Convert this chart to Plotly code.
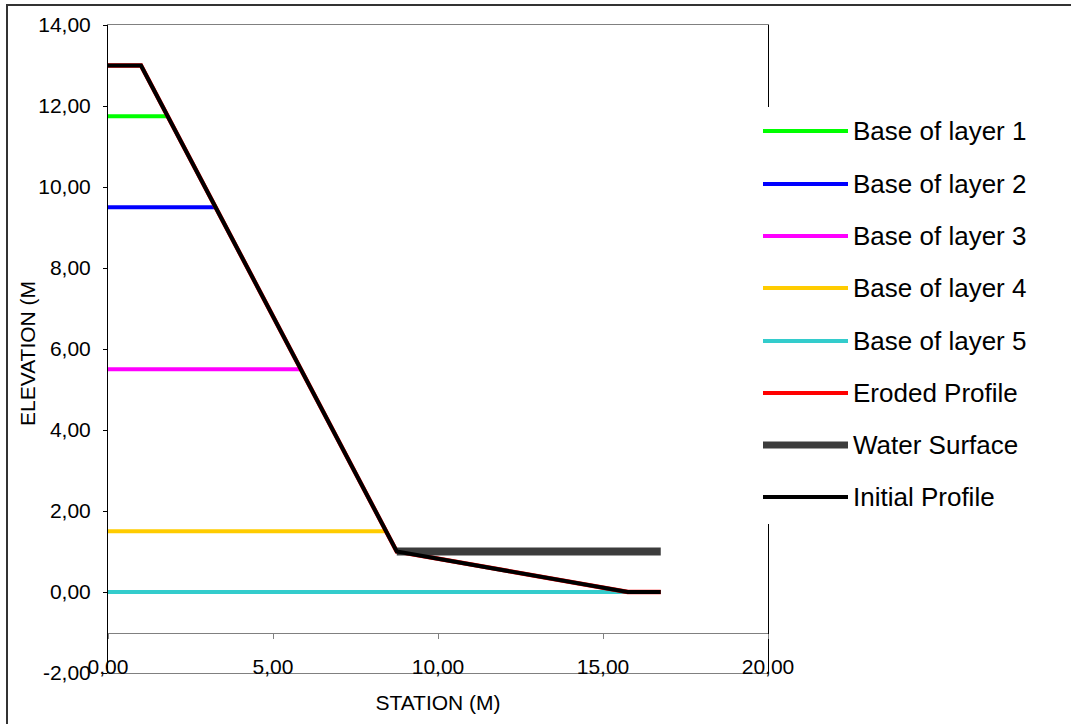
import plotly.graph_objects as go

# ---------------- data ----------------
layer_names = ["Base of layer 1", "Base of layer 2", "Base of layer 3",
               "Base of layer 4", "Base of layer 5"]
layer_elev = [11.75, 9.5, 5.5, 1.5, 0.0]
layer_end_station = [1.8, 3.25, 5.85, 8.4, 15.75]

initial_x = [0.0, 1.0, 8.75, 15.75, 16.75]
initial_y = [13.0, 13.0, 1.0, 0.0, 0.0]

eroded_x = [0.0, 1.0, 8.75, 15.75, 16.75]
eroded_y = [13.0, 13.0, 1.0, 0.0, 0.0]

water_x = [8.75, 16.75]
water_y = [1.0, 1.0]

x_ticks = [0, 5, 10, 15, 20]
y_ticks = [-2, 0, 2, 4, 6, 8, 10, 12, 14]


def fmt(v):
    return f"{v:.2f}".replace(".", ",")


# ---------------- styles ----------------
FONT = "Liberation Sans, Arial, sans-serif"
layer_colors = ["#00FF00", "#0000FF", "#FF00FF", "#FFCC00", "#33CCCC"]
W, H = 1071, 724
L, R, T, B = 108, 303, 25, 51
PW, PH = W - L - R, H - T - B


def px(xp):
    return (xp - L) / PW


def py(yp):
    return (H - B - yp) / PH


fig = go.Figure()

for name, elev, xend, col in zip(layer_names, layer_elev, layer_end_station, layer_colors):
    fig.add_trace(go.Scatter(x=[0, xend], y=[elev, elev], mode="lines", name=name,
                             line=dict(color=col, width=4), showlegend=False))

fig.add_trace(go.Scatter(x=eroded_x, y=eroded_y, mode="lines", name="Eroded Profile",
                         line=dict(color="#FF0000", width=4.4), showlegend=False))
fig.add_trace(go.Scatter(x=water_x, y=water_y, mode="lines", name="Water Surface",
                         line=dict(color="#3c3c3c", width=8), showlegend=False))
fig.add_trace(go.Scatter(x=initial_x, y=initial_y, mode="lines", name="Initial Profile",
                         xaxis="x2", yaxis="y",
                         line=dict(color="#000000", width=4), showlegend=False))

# ---------------- custom legend ----------------
legend_names = layer_names + ["Eroded Profile", "Water Surface", "Initial Profile"]
legend_colors = layer_colors + ["#FF0000", "#3c3c3c", "#000000"]
legend_widths = [4, 4, 4, 4, 4, 4, 7, 4]
row_y = [131, 184, 236, 288, 341, 393, 445, 497]

shapes = []
shapes.append(dict(type="rect", xref="paper", yref="paper",
                   x0=px(752), x1=px(1060), y0=py(524), y1=py(107),
                   fillcolor="white", line=dict(width=0), layer="above"))
annotations = []
for nm, col, lw, ry in zip(legend_names, legend_colors, legend_widths, row_y):
    shapes.append(dict(type="line", xref="paper", yref="paper",
                       x0=px(763), x1=px(848), y0=py(ry), y1=py(ry),
                       line=dict(color=col, width=lw), layer="above"))
    annotations.append(dict(x=px(851), y=py(ry), xref="paper", yref="paper",
                            text=nm, showarrow=False, xanchor="left", yanchor="middle",
                            font=dict(family=FONT, size=26, color="#000000")))

annotations.append(dict(x=px(28), y=py(354), xref="paper", yref="paper",
                        text="ELEVATION (M", showarrow=False, textangle=-90,
                        xanchor="center", yanchor="middle",
                        font=dict(family=FONT, size=21, color="#000000")))

# outer chart frame
shapes.append(dict(type="rect", xref="paper", yref="paper",
                   x0=px(7), x1=px(1200), y0=py(800), y1=py(5),
                   line=dict(color="#333333", width=2), fillcolor="rgba(0,0,0,0)",
                   layer="above"))

fig.update_layout(
    width=W, height=H, autosize=False,
    margin=dict(l=L, r=R, t=T, b=B, pad=0),
    paper_bgcolor="white", plot_bgcolor="white",
    font=dict(family=FONT, size=21, color="#000000"),
    showlegend=False,
    shapes=shapes,
    annotations=annotations,
    xaxis=dict(range=[0, 20], showgrid=False, zeroline=False,
               showline=True, linecolor="#808080", linewidth=1, mirror=True,
               ticks="", showticklabels=False,
               title=dict(text="STATION (M)", font=dict(size=21), standoff=22)),
    xaxis2=dict(range=[0, 20], overlaying="x", anchor="free", position=1 / 16,
                showgrid=False, zeroline=False, showline=True, linecolor="#808080",
                linewidth=1, ticks="outside", ticklen=5, tickcolor="#808080",
                tickvals=x_ticks, ticktext=[fmt(v) for v in x_ticks],
                ticklabelstandoff=10, tickfont=dict(size=21)),
    yaxis=dict(range=[-2, 14], showgrid=False, zeroline=False,
               showline=True, linecolor="#000000", linewidth=1, mirror=True,
               ticks="outside", ticklen=4, tickcolor="#000000",
               tickvals=y_ticks, ticktext=[fmt(v) for v in y_ticks],
               ticklabelstandoff=8, tickfont=dict(size=21)),
)

fig.write_html("out.html")
